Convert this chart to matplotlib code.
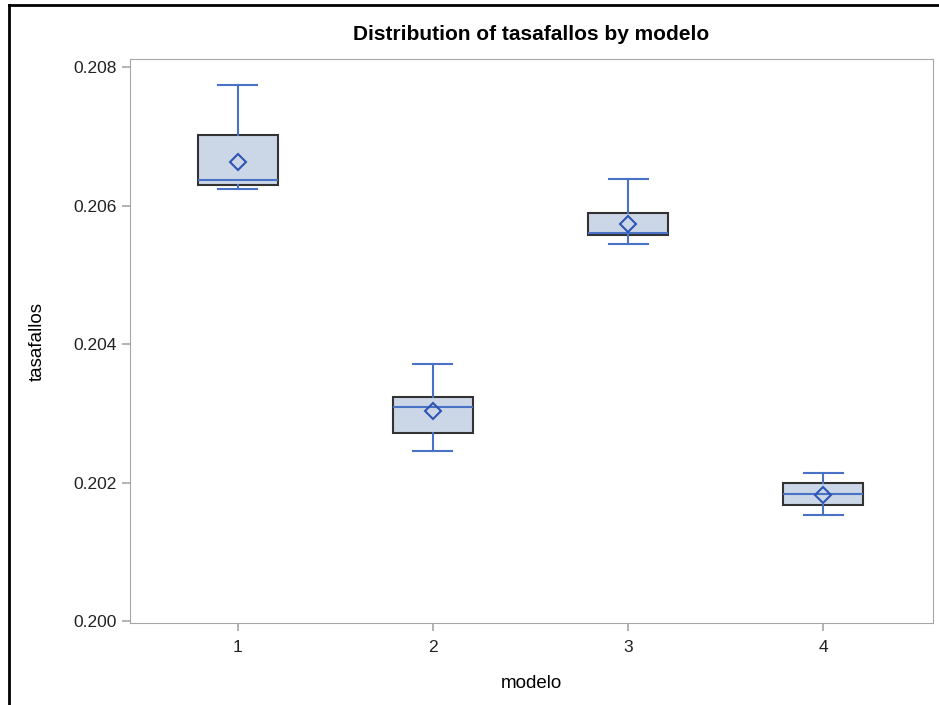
import numpy as np
import matplotlib as mpl
mpl.use('Agg')
from matplotlib import pyplot as plt
from matplotlib.lines import Line2D

mpl.rcParams.update({
    'font.family': ['Liberation Sans', 'DejaVu Sans'],
    'font.size': 12.5,
})

# box statistics
modelos = ['1', '2', '3', '4']
whis_lo = [0.20624, 0.20245, 0.20544, 0.20153]
q1 = [0.20630, 0.20271, 0.20557, 0.20167]
med = [0.20637, 0.20309, 0.20561, 0.20183]
q3 = [0.20702, 0.20323, 0.20590, 0.201986]
whis_hi = [0.20774, 0.20371, 0.20639, 0.20214]
means = [0.20663, 0.20303, 0.20574, 0.20182]

stats = []
for i in range(len(modelos)):
    stats.append({'whislo': whis_lo[i], 'q1': q1[i], 'med': med[i], 'q3': q3[i],
                  'whishi': whis_hi[i], 'mean': means[i], 'label': modelos[i]})

W, H = 939, 705
fig = plt.figure(figsize=(W/100, H/100), dpi=100)
ax = fig.add_axes([130/W, 1 - 623/H, (933-130)/W, (623-59)/H])

blue = '#4a72c4'
ax.bxp(stats, positions=[1, 2, 3, 4], widths=0.41, showmeans=True,
       patch_artist=True, showfliers=False,
       boxprops=dict(facecolor='#cbd6e6', edgecolor='#333333', linewidth=1.5),
       medianprops=dict(color=blue, linewidth=1.5),
       whiskerprops=dict(color=blue, linewidth=1.5),
       capprops=dict(color=blue, linewidth=1.5),
       capwidths=0.2,
       meanprops=dict(marker='D', markerfacecolor='none', markeredgecolor='#2e55b5',
                      markeredgewidth=1.5, markersize=8))

ax.set_xlim(0.447, 4.563)
ax.set_ylim(0.19997, 0.20812)
ax.set_yticks([0.200, 0.202, 0.204, 0.206, 0.208])
ax.set_yticklabels(['0.200', '0.202', '0.204', '0.206', '0.208'])
for s in ax.spines.values():
    s.set_color('#a6a6a6')
ax.tick_params(colors='#a6a6a6', labelcolor='#222222', length=5.5, width=1.2)
ax.tick_params(axis='x', pad=7)
ax.tick_params(axis='y', pad=4)

ax.set_xlabel('modelo', fontsize=13.5)
ax.set_ylabel('tasafallos', fontsize=13.5)
ax.xaxis.set_label_coords(0.5, (623 - 683) / 564)
ax.xaxis.label.set_va('center')
ax.yaxis.set_label_coords((37.5 - 130) / 803, 0.5)
ax.yaxis.label.set_va('center')
ax.set_title('Distribution of tasafallos by modelo', fontsize=15, fontweight='bold',
             y=1 + (59 - 35) / 564, va='center', pad=0)

# outer frame (left and top)
fig.add_artist(Line2D([9/W, 9/W], [0, 1 - 5/H], color='black', linewidth=2,
                      transform=fig.transFigure))
fig.add_artist(Line2D([9/W, 1], [1 - 5/H, 1 - 5/H], color='black', linewidth=2,
                      transform=fig.transFigure))

fig.savefig('out.png', dpi=100)
